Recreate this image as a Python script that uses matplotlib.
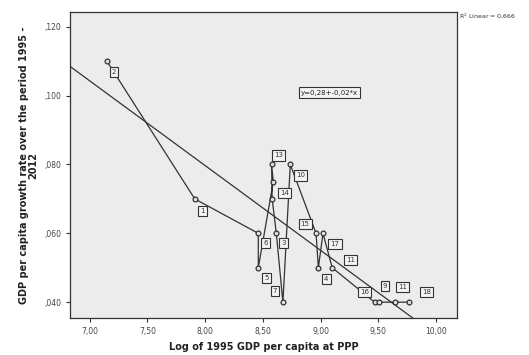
import numpy as np
import matplotlib
matplotlib.use('Agg')
import matplotlib.pyplot as plt

# Datos (orden de la línea que une los puntos)
log_gdp = [7.15, 7.91, 8.46, 8.46, 8.59, 8.575, 8.58, 8.616, 8.673, 8.737,
           8.96, 8.98, 9.02, 9.10, 9.467, 9.505, 9.647, 9.762]
growth = [0.110, 0.070, 0.060, 0.050, 0.075, 0.080, 0.070, 0.060, 0.040, 0.080,
          0.060, 0.050, 0.060, 0.050, 0.040, 0.040, 0.040, 0.040]
etiquetas = ['2', '1', '6', '5', '14', '13', '', '3', '7', '10',
             '15', '4', '17', '11', '16', '9', '11', '18']
# desplazamiento de cada etiqueta (pixeles)
desp = [(7, -11), (8, -12), (7, -10), (8, -10), (11, -11), (7, 9), (0, 0), (7, -10),
        (-8, 11), (10, -11), (-11, 9), (8, -11), (12, -11), (18, 8),
        (-10, 10), (6, 16), (7, 15), (18, 10)]

# Recta de ajuste
intercepto = 0.2768
pendiente = -0.02464
r2_texto = 'R$^2$ Linear = 0,666'
ecuacion = 'y=0,28+-0,02*x'

xticks = [7.0, 7.5, 8.0, 8.5, 9.0, 9.5, 10.0]
yticks = [0.040, 0.060, 0.080, 0.100, 0.120]

fig = plt.figure(figsize=(5.29, 3.55), dpi=100)
ax = fig.add_axes([0.1323, 0.1042, 0.7316, 0.862])
ax.set_facecolor('#ececec')

# Recta de regresión
xr = np.array([6.83, 10.18])
ax.plot(xr, intercepto + pendiente * xr, color='#333333', linewidth=0.9)

# Línea que une los puntos
ax.plot(log_gdp, growth, color='#333333', linewidth=0.9, marker='o',
        markersize=3.5, markerfacecolor='#dddddd', markeredgecolor='#222222',
        markeredgewidth=0.8)

for x, y, t, d in zip(log_gdp, growth, etiquetas, desp):
    if t == '':
        continue
    ax.annotate(t, (x, y), xytext=d, textcoords='offset pixels',
                ha='center', va='center', fontsize=5, color='#333333',
                bbox=dict(boxstyle='square,pad=0.3', fc='#f4f4f4', ec='#333333', lw=0.8))

ax.text(8.83, 0.1009, ecuacion, fontsize=5, color='#222222', va='center', ha='left',
        bbox=dict(boxstyle='square,pad=0.3', fc='#f4f4f4', ec='#333333', lw=0.8))

fig.text(0.868, 0.955, r2_texto, fontsize=4.5, color='#333333', va='center', ha='left')

ax.set_xlim(6.83, 10.18)
ax.set_ylim(0.0354, 0.1243)
ax.set_xticks(xticks)
ax.set_xticklabels([f'{v:.2f}'.replace('.', ',') for v in xticks])
ax.set_yticks(yticks)
ax.set_yticklabels([f'{v:.3f}'[1:].replace('.', ',') for v in yticks])
ax.tick_params(labelsize=5.5, labelcolor='#444444', length=3, width=0.8, color='#333333')

for s in ax.spines.values():
    s.set_color('#333333')
    s.set_linewidth(0.9)

ax.set_xlabel('Log of 1995 GDP per capita at PPP', fontsize=7, fontweight='bold', color='#222222')
ax.set_ylabel('GDP per capita growth rate over the period 1995 -\n2012', fontsize=7,
              fontweight='bold', color='#222222', linespacing=0.95)

fig.savefig('out.png', dpi=100)
